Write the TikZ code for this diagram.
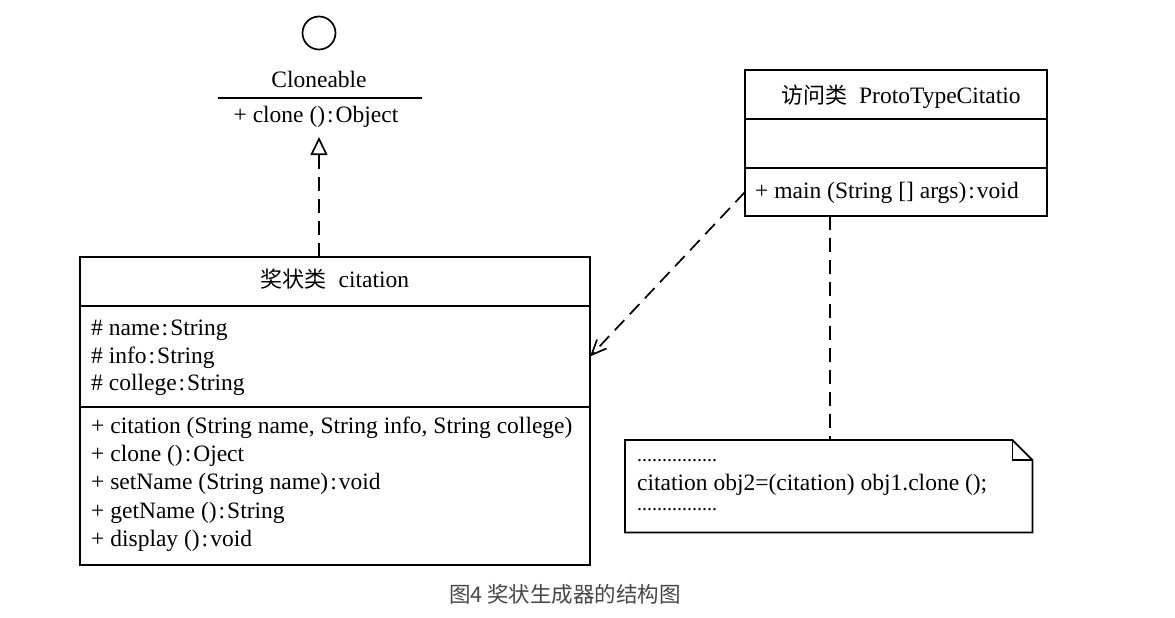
\documentclass[tikz,border=0pt]{standalone}
\usepackage{fontspec}
\setmainfont{Liberation Serif}
\newfontfamily\cjk{Noto Sans CJK SC}
\usetikzlibrary{arrows.meta,positioning,calc}
\definecolor{capgray}{RGB}{70,70,70}
\newcommand{\cln}{\kern2pt:\kern2pt}
\tikzset{
  part/.style={draw, line width=1.7pt, inner sep=0pt, outer sep=0pt, minimum height=#1},
  member/.style={inner sep=0pt, anchor=base west, font=\fontsize{23.5}{28}\selectfont},
  title/.style={inner sep=0pt, anchor=base, font=\fontsize{23.5}{28}\selectfont},
  dashline/.style={line width=1.7pt, dash pattern=on 14pt off 8pt}
}
\begin{document}
\begin{tikzpicture}[x=1pt,y=-1pt]
		\useasboundingbox (0,0) rectangle (1175,618);
		% interfaz Cloneable
		\node[draw, circle, line width=1.7pt, minimum size=33pt, inner sep=0pt] (iface-circ) at (319,33) {};
		\node[title] (iface-name) at (319,88) {Cloneable};
		\coordinate (iface-l) at (218,98);
		\coordinate (iface-r) at (422,98);
		\draw[line width=1.7pt] (iface-l) -- (iface-r);
		\node[title] (iface-ops) at (316,122) {+ clone ()\cln Object};
		\coordinate (iface-tip) at (319,137);
		% clase citation
		\node[part=49pt, minimum width=510pt, anchor=north west] (cit-name) at (80,257) {};
		\node[part=101pt, minimum width=510pt, below=0pt of cit-name] (cit-attr) {};
		\node[part=158pt, minimum width=510pt, below=0pt of cit-attr] (cit-ops) {};
		\node[title] (cit-title) at ($(cit-name.north)+(0,30)$) {{\cjk\fontsize{22}{26}\selectfont 奖状类}\ \ citation};
		\foreach \t [count=\i] in {{\# name\cln String}, {\# info\cln String}, {\# college\cln String}}
		  \node[member] (cit-a\i) at ($(cit-attr.north west)+(11,2+27.6*\i)$) {\t};
		\foreach \t [count=\i] in {{+ citation (String name, String info, String college)}, {+ clone ()\cln Oject},
		  {+ setName (String name)\cln void}, {+ getName ()\cln String}, {+ display ()\cln void}}
		  \node[member] (cit-m\i) at ($(cit-ops.north west)+(11,-2.4+28.4*\i)$) {\t};
		% clase de acceso
		\node[part=49pt, minimum width=302pt, anchor=north west] (vis-name) at (745,70) {};
		\node[part=49pt, minimum width=302pt, below=0pt of vis-name] (vis-attr) {};
		\node[part=48pt, minimum width=302pt, below=0pt of vis-attr] (vis-ops) {};
		\node[title] (vis-title) at ($(vis-name.north)+(5,33)$) {{\cjk\fontsize{22}{26}\selectfont 访问类}\ \ ProtoTypeCitatio};
		\node[member] (vis-m1) at ($(vis-ops.north west)+(10,30)$) {+ main (String [] args)\cln void};
		% nota
		\node[minimum width=407pt, minimum height=92pt, inner sep=0pt, anchor=north west] (note) at (625,440) {};
		\draw[line width=1.7pt] (note.north west) -- ($(note.north east)+(-20,0)$) -- ($(note.north east)+(0,20)$)
		  -- (note.south east) -- (note.south west) -- cycle;
		\draw[line width=1.7pt] ($(note.north east)+(-20,0)$) -- ($(note.north east)+(-20,20)$) -- ($(note.north east)+(0,20)$);
		\node[member, font=\fontsize{20}{24}\selectfont] (note-l1) at ($(note.north west)+(12,21)$) {................};
		\node[member] (note-l2) at ($(note.north west)+(12,50)$) {citation obj2=(citation) obj1.clone ();};
		\node[member, font=\fontsize{20}{24}\selectfont] (note-l3) at ($(note.north west)+(12,70)$) {................};
		\coordinate (link) at ($(vis-ops.south west)+(85,0)$);
		% conectores
		\draw[dashline, -{Triangle[open, length=18pt, width=17pt, line width=1.7pt]}] (cit-name.north -| iface-tip) -- (iface-tip);
		\draw[dashline, -{Straight Barb[length=15pt, width=13pt, line width=1.7pt]}] (vis-ops.west) -- (cit-attr.east);
		\draw[dashline] (link) -- (link |- note.north);
		% pie
		\node[font=\cjk\fontsize{21.5}{26}\selectfont, text=capgray] (caption) at (565,594) {图4 奖状生成器的结构图};
\end{tikzpicture}
\end{document}
